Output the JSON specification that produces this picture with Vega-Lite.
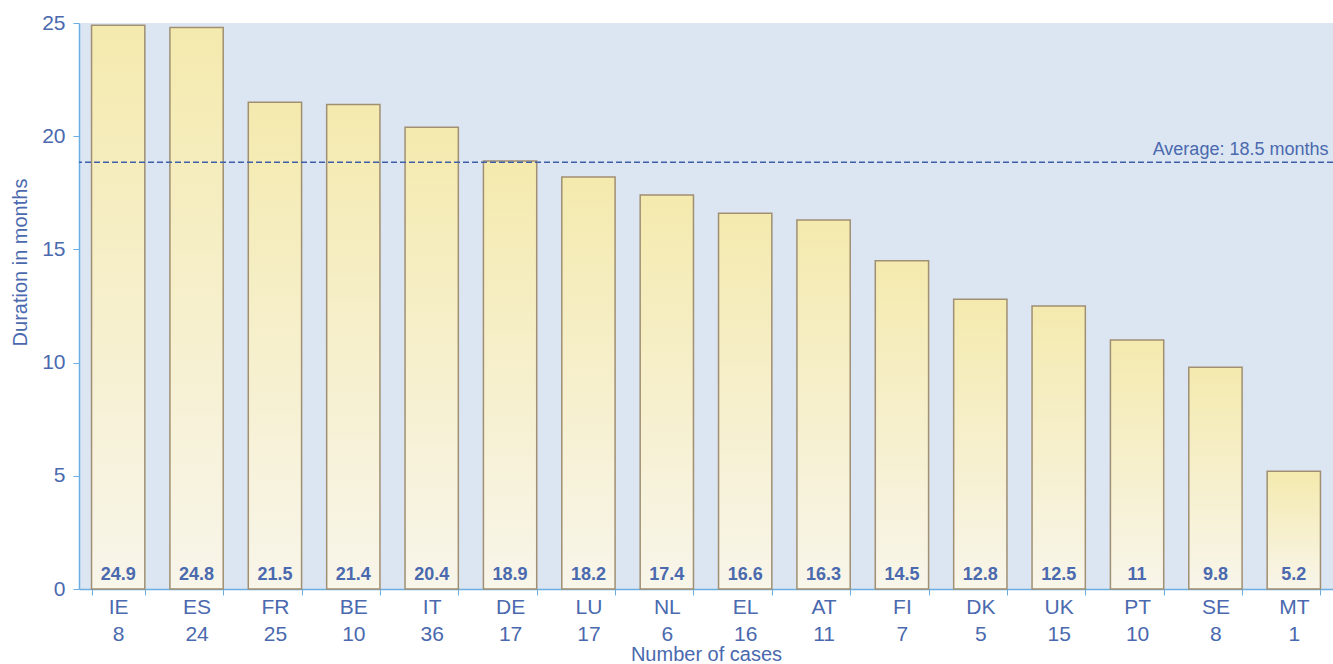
{
  "$schema": "https://vega.github.io/schema/vega-lite/v6.json",
  "width": 1254,
  "height": 566,
  "autosize": {"type": "none"},
  "padding": {"left": 79, "top": 23, "right": 0, "bottom": 75},
  "background": "white",
  "config": {
    "view": {"fill": "#dce6f2", "stroke": null},
    "font": "Liberation Sans"
  },
  "datasets": {
    "bars": [
      {"country": "IE", "cases": 8, "key": "IE|8", "months": 24.9},
      {"country": "ES", "cases": 24, "key": "ES|24", "months": 24.8},
      {"country": "FR", "cases": 25, "key": "FR|25", "months": 21.5},
      {"country": "BE", "cases": 10, "key": "BE|10", "months": 21.4},
      {"country": "IT", "cases": 36, "key": "IT|36", "months": 20.4},
      {"country": "DE", "cases": 17, "key": "DE|17", "months": 18.9},
      {"country": "LU", "cases": 17, "key": "LU|17", "months": 18.2},
      {"country": "NL", "cases": 6, "key": "NL|6", "months": 17.4},
      {"country": "EL", "cases": 16, "key": "EL|16", "months": 16.6},
      {"country": "AT", "cases": 11, "key": "AT|11", "months": 16.3},
      {"country": "FI", "cases": 7, "key": "FI|7", "months": 14.5},
      {"country": "DK", "cases": 5, "key": "DK|5", "months": 12.8},
      {"country": "UK", "cases": 15, "key": "UK|15", "months": 12.5},
      {"country": "PT", "cases": 10, "key": "PT|10", "months": 11},
      {"country": "SE", "cases": 8, "key": "SE|8", "months": 9.8},
      {"country": "MT", "cases": 1, "key": "MT|1", "months": 5.2}
    ],
    "avg": [{"avg": 18.85, "label": "Average: 18.5 months", "key": "MT|1"}]
  },
  "layer": [
    {
      "data": {"name": "bars"},
      "mark": {
        "type": "bar",
        "stroke": "#a08f72",
        "strokeWidth": 1.5,
        "color": {
          "gradient": "linear",
          "x1": 0, "y1": 0, "x2": 0, "y2": 1,
          "stops": [
            {"offset": 0, "color": "#f4eaae"},
            {"offset": 1, "color": "#f8f5ea"}
          ]
        }
      },
      "encoding": {
        "x": {
          "field": "key",
          "type": "nominal",
          "sort": ["IE|8", "ES|24", "FR|25", "BE|10", "IT|36", "DE|17", "LU|17", "NL|6", "EL|16", "AT|11", "FI|7", "DK|5", "UK|15", "PT|10", "SE|8", "MT|1"],
          "scale": {"paddingInner": 0.32, "paddingOuter": 0.16},
          "axis": {
            "title": "Number of cases",
            "titleFontSize": 20,
            "titleFontWeight": "normal",
            "titleColor": "#4a69ae",
            "titleY": 65,
            "titleBaseline": "middle",
            "labelExpr": "split(datum.label, '|')",
            "labelFontSize": 21,
            "labelLineHeight": 27,
            "labelColor": "#4a69ae",
            "labelAngle": 0,
            "labelPadding": 1,
            "tickBand": "extent",
            "tickSize": 6,
            "tickColor": "#6aaee2",
            "domainColor": "#6aaee2",
            "domainWidth": 1.5,
            "grid": false
          }
        },
        "y": {
          "field": "months",
          "type": "quantitative",
          "scale": {"domain": [0, 25], "nice": false},
          "axis": {
            "title": "Duration in months",
            "titleFontSize": 20,
            "titleFontWeight": "normal",
            "titleColor": "#4a69ae",
            "titleX": -59,
            "titleY": 239,
            "titleBaseline": "middle",
            "values": [0, 5, 10, 15, 20, 25],
            "labelFontSize": 21,
            "labelColor": "#4a69ae",
            "labelPadding": 8,
            "tickSize": 6,
            "tickColor": "#6aaee2",
            "domainColor": "#6aaee2",
            "domainWidth": 1.5,
            "grid": false
          }
        }
      }
    },
    {
      "data": {"name": "bars"},
      "mark": {
        "type": "text",
        "fontWeight": "bold",
        "fontSize": 18,
        "color": "#4a69ae",
        "baseline": "alphabetic",
        "dy": -9
      },
      "encoding": {
        "x": {"field": "key", "type": "nominal", "sort": ["IE|8", "ES|24", "FR|25", "BE|10", "IT|36", "DE|17", "LU|17", "NL|6", "EL|16", "AT|11", "FI|7", "DK|5", "UK|15", "PT|10", "SE|8", "MT|1"]},
        "y": {"datum": 0},
        "text": {"field": "months", "type": "quantitative"}
      }
    },
    {
      "data": {"name": "avg"},
      "mark": {"type": "rule", "color": "#3f5fa8", "strokeWidth": 1.5, "strokeDash": [6, 3]},
      "encoding": {
        "y": {"field": "avg", "type": "quantitative"}
      }
    },
    {
      "data": {"name": "avg"},
      "mark": {
        "type": "text",
        "fontSize": 18,
        "color": "#4a69ae",
        "align": "right",
        "baseline": "alphabetic",
        "dy": -7,
        "dx": 8
      },
      "encoding": {
        "x": {"field": "key", "type": "nominal", "bandPosition": 1, "sort": ["IE|8", "ES|24", "FR|25", "BE|10", "IT|36", "DE|17", "LU|17", "NL|6", "EL|16", "AT|11", "FI|7", "DK|5", "UK|15", "PT|10", "SE|8", "MT|1"]},
        "y": {"field": "avg", "type": "quantitative"},
        "text": {"field": "label"}
      }
    }
  ]
}
